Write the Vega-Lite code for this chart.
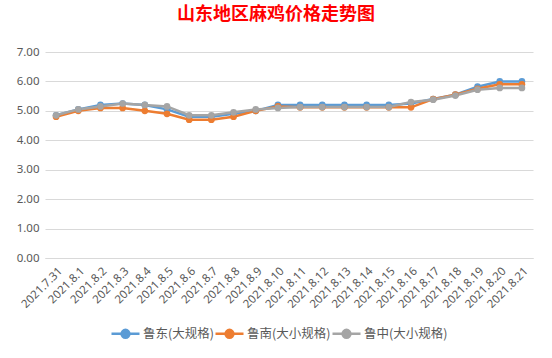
{
  "$schema": "https://vega.github.io/schema/vega-lite/v6.json",
  "width": 488,
  "height": 206,
  "autosize": {"type": "none"},
  "padding": {"left": 45, "top": 52, "right": 19, "bottom": 100},
  "background": "white",
  "title": {
    "text": "山东地区麻鸡价格走势图",
    "font": "Noto Sans CJK SC",
    "fontSize": 18,
    "fontWeight": "bold",
    "color": "#FF0000",
    "anchor": "middle",
    "frame": "group",
    "dx": -13,
    "offset": 22
  },
  "data": {
    "values": [
      {"d": "2021.7.31", "s": "鲁东(大规格)", "v": 4.85},
      {"d": "2021.8.1", "s": "鲁东(大规格)", "v": 5.05},
      {"d": "2021.8.2", "s": "鲁东(大规格)", "v": 5.2},
      {"d": "2021.8.3", "s": "鲁东(大规格)", "v": 5.25},
      {"d": "2021.8.4", "s": "鲁东(大规格)", "v": 5.2},
      {"d": "2021.8.5", "s": "鲁东(大规格)", "v": 5.05},
      {"d": "2021.8.6", "s": "鲁东(大规格)", "v": 4.8},
      {"d": "2021.8.7", "s": "鲁东(大规格)", "v": 4.8},
      {"d": "2021.8.8", "s": "鲁东(大规格)", "v": 4.9},
      {"d": "2021.8.9", "s": "鲁东(大规格)", "v": 5.0},
      {"d": "2021.8.10", "s": "鲁东(大规格)", "v": 5.2},
      {"d": "2021.8.11", "s": "鲁东(大规格)", "v": 5.2},
      {"d": "2021.8.12", "s": "鲁东(大规格)", "v": 5.2},
      {"d": "2021.8.13", "s": "鲁东(大规格)", "v": 5.2},
      {"d": "2021.8.14", "s": "鲁东(大规格)", "v": 5.2},
      {"d": "2021.8.15", "s": "鲁东(大规格)", "v": 5.2},
      {"d": "2021.8.16", "s": "鲁东(大规格)", "v": 5.25},
      {"d": "2021.8.17", "s": "鲁东(大规格)", "v": 5.4},
      {"d": "2021.8.18", "s": "鲁东(大规格)", "v": 5.55},
      {"d": "2021.8.19", "s": "鲁东(大规格)", "v": 5.82},
      {"d": "2021.8.20", "s": "鲁东(大规格)", "v": 6.0},
      {"d": "2021.8.21", "s": "鲁东(大规格)", "v": 6.0},
      {"d": "2021.7.31", "s": "鲁南(大小规格)", "v": 4.8},
      {"d": "2021.8.1", "s": "鲁南(大小规格)", "v": 5.0},
      {"d": "2021.8.2", "s": "鲁南(大小规格)", "v": 5.1},
      {"d": "2021.8.3", "s": "鲁南(大小规格)", "v": 5.1},
      {"d": "2021.8.4", "s": "鲁南(大小规格)", "v": 5.0},
      {"d": "2021.8.5", "s": "鲁南(大小规格)", "v": 4.9},
      {"d": "2021.8.6", "s": "鲁南(大小规格)", "v": 4.7},
      {"d": "2021.8.7", "s": "鲁南(大小规格)", "v": 4.7},
      {"d": "2021.8.8", "s": "鲁南(大小规格)", "v": 4.8},
      {"d": "2021.8.9", "s": "鲁南(大小规格)", "v": 5.0},
      {"d": "2021.8.10", "s": "鲁南(大小规格)", "v": 5.15},
      {"d": "2021.8.11", "s": "鲁南(大小规格)", "v": 5.12},
      {"d": "2021.8.12", "s": "鲁南(大小规格)", "v": 5.12},
      {"d": "2021.8.13", "s": "鲁南(大小规格)", "v": 5.12},
      {"d": "2021.8.14", "s": "鲁南(大小规格)", "v": 5.12},
      {"d": "2021.8.15", "s": "鲁南(大小规格)", "v": 5.12},
      {"d": "2021.8.16", "s": "鲁南(大小规格)", "v": 5.12},
      {"d": "2021.8.17", "s": "鲁南(大小规格)", "v": 5.4},
      {"d": "2021.8.18", "s": "鲁南(大小规格)", "v": 5.55},
      {"d": "2021.8.19", "s": "鲁南(大小规格)", "v": 5.75},
      {"d": "2021.8.20", "s": "鲁南(大小规格)", "v": 5.9},
      {"d": "2021.8.21", "s": "鲁南(大小规格)", "v": 5.9},
      {"d": "2021.7.31", "s": "鲁中(大小规格)", "v": 4.85},
      {"d": "2021.8.1", "s": "鲁中(大小规格)", "v": 5.05},
      {"d": "2021.8.2", "s": "鲁中(大小规格)", "v": 5.15},
      {"d": "2021.8.3", "s": "鲁中(大小规格)", "v": 5.25},
      {"d": "2021.8.4", "s": "鲁中(大小规格)", "v": 5.2},
      {"d": "2021.8.5", "s": "鲁中(大小规格)", "v": 5.15},
      {"d": "2021.8.6", "s": "鲁中(大小规格)", "v": 4.85},
      {"d": "2021.8.7", "s": "鲁中(大小规格)", "v": 4.85},
      {"d": "2021.8.8", "s": "鲁中(大小规格)", "v": 4.95},
      {"d": "2021.8.9", "s": "鲁中(大小规格)", "v": 5.05},
      {"d": "2021.8.10", "s": "鲁中(大小规格)", "v": 5.1},
      {"d": "2021.8.11", "s": "鲁中(大小规格)", "v": 5.13},
      {"d": "2021.8.12", "s": "鲁中(大小规格)", "v": 5.13},
      {"d": "2021.8.13", "s": "鲁中(大小规格)", "v": 5.13},
      {"d": "2021.8.14", "s": "鲁中(大小规格)", "v": 5.13},
      {"d": "2021.8.15", "s": "鲁中(大小规格)", "v": 5.13},
      {"d": "2021.8.16", "s": "鲁中(大小规格)", "v": 5.3},
      {"d": "2021.8.17", "s": "鲁中(大小规格)", "v": 5.38},
      {"d": "2021.8.18", "s": "鲁中(大小规格)", "v": 5.52},
      {"d": "2021.8.19", "s": "鲁中(大小规格)", "v": 5.72},
      {"d": "2021.8.20", "s": "鲁中(大小规格)", "v": 5.78},
      {"d": "2021.8.21", "s": "鲁中(大小规格)", "v": 5.78}
    ]
  },
  "mark": {"type": "line", "strokeWidth": 2.5, "point": {"filled": true, "size": 45}},
  "encoding": {
    "x": {
      "field": "d",
      "type": "ordinal",
      "sort": null,
      "title": null,
      "axis": {
        "labelAngle": -45,
        "labelFont": "Noto Sans",
        "labelFontSize": 11.5,
        "labelColor": "#595959",
        "ticks": false,
        "domainColor": "#D9D9D9",
        "labelPadding": 7,
        "grid": false
      }
    },
    "y": {
      "field": "v",
      "type": "quantitative",
      "scale": {"domain": [0, 7], "nice": false},
      "title": null,
      "axis": {
        "values": [0, 1, 2, 3, 4, 5, 6, 7],
        "format": ".2f",
        "labelFont": "Noto Sans",
        "labelFontSize": 11.5,
        "labelColor": "#595959",
        "ticks": false,
        "domain": false,
        "gridColor": "#D9D9D9",
        "labelPadding": 6
      }
    },
    "color": {
      "field": "s",
      "type": "nominal",
      "scale": {
        "domain": ["鲁东(大规格)", "鲁南(大小规格)", "鲁中(大小规格)"],
        "range": ["#5B9BD5", "#ED7D31", "#A5A5A5"]
      },
      "legend": {
        "title": null,
        "orient": "none",
        "direction": "horizontal",
        "legendX": 65,
        "legendY": 266,
        "labelFont": "Noto Sans CJK SC",
        "labelFontSize": 12.5,
        "labelColor": "#595959",
        "symbolType": "M-1,0L1,0M-0.28,0A0.28,0.28 0 1,1 0.28,0A0.28,0.28 0 1,1 -0.28,0Z",
        "symbolSize": 784,
        "symbolStrokeWidth": 2.5,
        "labelOffset": 2,
        "columnPadding": -9
      }
    }
  },
  "config": {"view": {"stroke": null}}
}
